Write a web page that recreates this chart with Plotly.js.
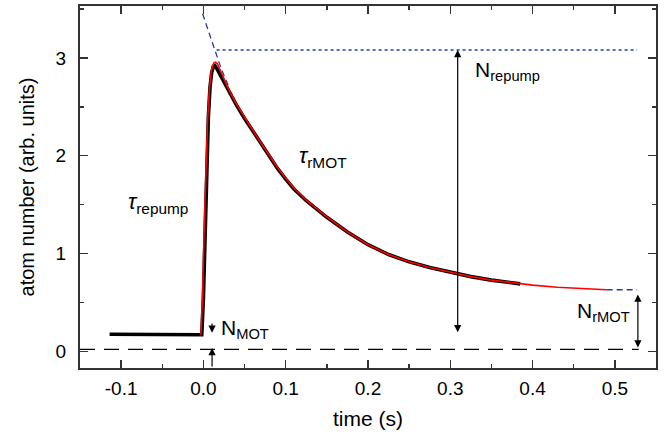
<!DOCTYPE html>
<html>
<head>
<meta charset="utf-8">
<script src="https://cdn.plot.ly/plotly-3.0.1.min.js"></script>
<style>html,body{margin:0;padding:0;background:#fff;} #chart{width:668px;height:433px;}</style>
</head>
<body>
<div id="chart"></div>
<script>
// measured data (black, noisy trace)
var dataT = [-0.114, -0.08, -0.04, -0.002, 0.000, 0.002, 0.004, 0.006, 0.008, 0.010, 0.012, 0.014, 0.017, 0.022, 0.030, 0.040, 0.050, 0.060, 0.070, 0.080, 0.090, 0.100, 0.110, 0.125, 0.150, 0.175, 0.200, 0.225, 0.250, 0.275, 0.300, 0.325, 0.350, 0.385];
var dataN = [0.175, 0.172, 0.172, 0.170, 0.55, 1.30, 1.90, 2.40, 2.70, 2.85, 2.91, 2.92, 2.88, 2.80, 2.67, 2.52, 2.38, 2.25, 2.12, 1.99, 1.87, 1.76, 1.66, 1.54, 1.37, 1.22, 1.09, 0.99, 0.915, 0.857, 0.807, 0.764, 0.728, 0.69];
// fit (red)
var fitT = [-0.003, -0.001, 0.001, 0.003, 0.005, 0.007, 0.009, 0.011, 0.013, 0.0148, 0.017, 0.020, 0.025, 0.030, 0.040, 0.050, 0.060, 0.070, 0.080, 0.090, 0.100, 0.110, 0.125, 0.150, 0.175, 0.200, 0.225, 0.250, 0.275, 0.300, 0.325, 0.350, 0.385, 0.400, 0.430, 0.460, 0.490];
var fitN = [0.17, 0.60, 1.30, 1.90, 2.35, 2.65, 2.83, 2.92, 2.95, 2.955, 2.94, 2.88, 2.78, 2.69, 2.53, 2.39, 2.26, 2.13, 2.00, 1.88, 1.77, 1.67, 1.545, 1.375, 1.222, 1.09, 0.99, 0.915, 0.857, 0.807, 0.764, 0.728, 0.69, 0.677, 0.656, 0.641, 0.63];
// extrapolations (blue)
var rampT = [-0.001, 0.005, 0.010, 0.016, 0.022, 0.030];
var rampN = [3.45, 3.30, 3.17, 3.03, 2.88, 2.72];
var repumpT = [0.016, 0.527];
var repumpN = [3.08, 3.08];
var tailT = [0.490, 0.527];
var tailN = [0.63, 0.63];
// zero line
var zeroT = [-0.15, 0.529];
var zeroN = [0.02, 0.02];
// ticks
var xTickVals = [-0.1, 0.0, 0.1, 0.2, 0.3, 0.4, 0.5];
var xTickText = ['-0.1', '0.0', '0.1', '0.2', '0.3', '0.4', '0.5'];
var yTickVals = [0, 1, 2, 3];
var yTickText = ['0', '1', '2', '3'];
// arrow levels
var nMotX = 0.0105, nMotTop = 0.30, nMotLevel = 0.19, nMotBottom = -0.17, nMotZero = 0.035;
var nRepX = 0.309, nRepTop = 3.08, nRepBottom = 0.18;
var nRmX = 0.528, nRmTop = 0.58, nRmBottom = 0.025;

var blue = '#2a3d9a';
var FONT = 'Liberation Sans, Arial, sans-serif';

var traces = [
  {x: zeroT, y: zeroN, mode: 'lines', line: {color: '#000', width: 1.2, dash: '15px,9px'}, hoverinfo: 'skip'},
  {x: rampT, y: rampN, mode: 'lines', line: {color: blue, width: 1.3, dash: '6px,4px'}, hoverinfo: 'skip'},
  {x: repumpT, y: repumpN, mode: 'lines', line: {color: blue, width: 1.5, dash: 'dot'}, hoverinfo: 'skip'},
  {x: tailT, y: tailN, mode: 'lines', line: {color: blue, width: 1.3, dash: '6px,4px'}, hoverinfo: 'skip'},
  {x: dataT, y: dataN, mode: 'lines', line: {color: '#000', width: 3.6}, hoverinfo: 'skip'},
  {x: fitT, y: fitN, mode: 'lines', line: {color: '#ff0000', width: 1.6}, hoverinfo: 'skip'}
];

function arrow(x, y0, y1, both) {
  return {x: x, y: y1, ax: x, ay: y0, xref: 'x', yref: 'y', axref: 'x', ayref: 'y', text: '',
    showarrow: true, arrowhead: 2, startarrowhead: 2, arrowside: both ? 'end+start' : 'end',
    arrowsize: 1.2, startarrowsize: 1.2, arrowwidth: 1.2, arrowcolor: '#000', standoff: 0, startstandoff: 0};
}
function label(x, y, txt, size) {
  return {x: x, y: y, xref: 'x', yref: 'y', text: txt, showarrow: false, xanchor: 'left', yanchor: 'middle',
    font: {family: FONT, size: size, color: '#000'}};
}

var annotations = [
  arrow(nMotX, nMotTop, nMotLevel, false),
  arrow(nMotX, nMotBottom, nMotZero, false),
  arrow(nRepX, nRepBottom, nRepTop, true),
  arrow(nRmX, nRmBottom, nRmTop, true),
  label(0.328, 2.87, 'N<sub>repump</sub>', 21),
  label(0.0195, 0.23, 'N<sub>MOT</sub>', 21),
  label(0.451, 0.40, 'N<sub>rMOT</sub>', 21),
  label(-0.094, 1.52, '<i>τ</i><sub>repump</sub>', 22),
  label(0.114, 1.99, '<i>τ</i><sub>rMOT</sub>', 22)
];

var axisCommon = {
  showline: true, mirror: 'allticks', linecolor: '#333', linewidth: 2,
  ticks: 'inside', ticklen: 8, tickwidth: 1.5, tickcolor: '#333',
  showgrid: false, zeroline: false,
  tickfont: {family: FONT, size: 19, color: '#000'}
};

var layout = {
  width: 668, height: 433,
  margin: {l: 80, r: 12, t: 6, b: 65},
  paper_bgcolor: '#fff', plot_bgcolor: '#fff',
  showlegend: false,
  font: {family: FONT, color: '#000'},
  xaxis: Object.assign({}, axisCommon, {
    range: [-0.15, 0.55], tickmode: 'array', tickvals: xTickVals, ticktext: xTickText,
    minor: {dtick: 0.05, tick0: 0, ticks: 'inside', ticklen: 4, tickwidth: 1.5, tickcolor: '#333', showgrid: false},
    title: {text: 'time (s)', font: {family: FONT, size: 21, color: '#000'}, standoff: 14},
    ticklabelstandoff: 2
  }),
  yaxis: Object.assign({}, axisCommon, {
    range: [-0.17, 3.53], tickmode: 'array', tickvals: yTickVals, ticktext: yTickText,
    minor: {dtick: 0.5, tick0: 0, ticks: 'inside', ticklen: 4, tickwidth: 1.5, tickcolor: '#333', showgrid: false},
    title: {text: 'atom number (arb. units)', font: {family: FONT, size: 20, color: '#000'}, standoff: 16},
    ticklabelstandoff: 8
  }),
  annotations: annotations
};

Plotly.newPlot('chart', traces, layout, {displayModeBar: false, staticPlot: true});
</script>
</body>
</html>
